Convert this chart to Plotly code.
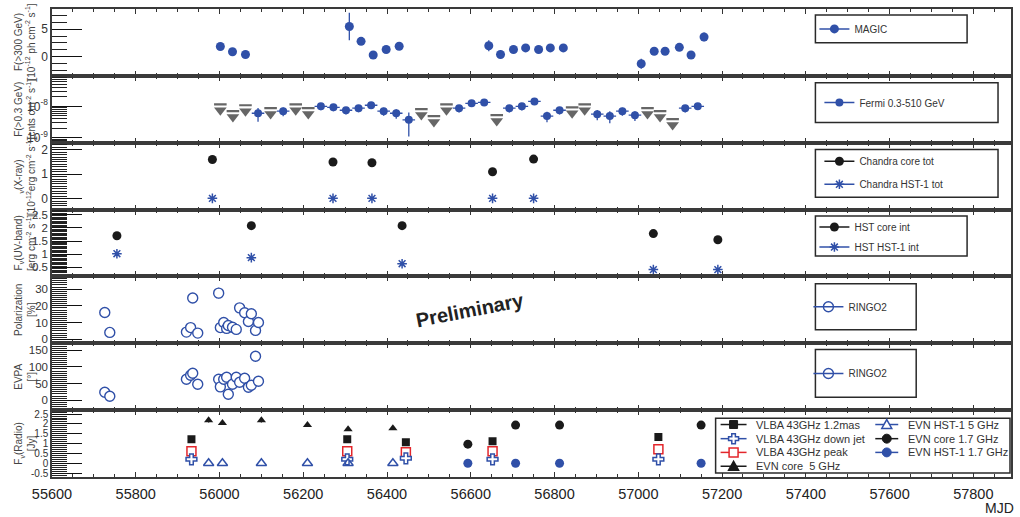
import plotly.graph_objects as go
from plotly.subplots import make_subplots

BLUE = "#3050a8"
GRAY = "#666666"
BLACK = "#1a1a1a"
RED = "#e3262b"
FONT = "Liberation Sans, Arial, sans-serif"

# ---------------- data ----------------
magic_mjd = [56002, 56031, 56062, 56310, 56338, 56367, 56398, 56429, 56643, 56671, 56702,
             56731, 56762, 56790, 56821, 57007, 57038, 57064, 57098, 57126, 57157]
magic_flux = [1.85, 0.9, 0.4, 5.5, 2.8, 0.3, 1.3, 1.9, 2.0, 0.4, 1.3,
              1.6, 1.3, 1.6, 1.6, -1.3, 1.0, 1.0, 1.7, 0.3, 3.6]
magic_err = [0.4, 0.4, 0.6, 2.5, 0.4, 0.4, 0.6, 0.5, 1.0, 0.8, 0.4,
             0.4, 0.4, 0.4, 0.4, 0.9, 0.6, 0.6, 0.5, 0.5, 0.8]

fermi_mjd = [56092, 56152, 56242, 56272, 56302, 56332, 56362, 56392, 56422, 56452, 56572, 56602,
             56632, 56692, 56722, 56752, 56782, 56812, 56902, 56932, 56962, 56992, 57112, 57142]
fermi_flux = [6.0e-9, 7.0e-9, 1.0e-8, 9.3e-9, 7.5e-9, 8.7e-9, 1.08e-8, 7.0e-9, 6.0e-9, 3.7e-9, 8.7e-9, 1.24e-8,
              1.33e-8, 8.7e-9, 1.0e-8, 1.43e-8, 4.9e-9, 7.5e-9, 5.6e-9, 4.9e-9, 7.0e-9, 5.2e-9, 8.7e-9, 1.0e-8]
fermi_err = [2.8e-9, 2.2e-9, 2.5e-9, 2.3e-9, 2.0e-9, 2.2e-9, 2.5e-9, 2.0e-9, 2.0e-9, 2.6e-9, 2.3e-9, 2.5e-9,
             2.5e-9, 2.3e-9, 2.6e-9, 2.8e-9, 1.8e-9, 2.0e-9, 2.0e-9, 2.0e-9, 2.0e-9, 1.8e-9, 2.3e-9, 2.3e-9]
fermi_ul_mjd = [56002, 56032, 56062, 56122, 56182, 56212, 56482, 56512, 56542, 56662, 56842, 56872,
                57022, 57052, 57082]
fermi_ul = [1.16e-8, 7.0e-9, 1.08e-8, 8.7e-9, 1.16e-8, 8.7e-9, 8.1e-9, 4.9e-9, 1.16e-8, 5.2e-9, 9.3e-9, 1.16e-8,
            8.7e-9, 7.0e-9, 3.9e-9]
fermi_halfbin = 15

chandra_mjd = [55983, 56271, 56364, 56652, 56750]
chandra_core = [1.6, 1.5, 1.47, 1.1, 1.62]
chandra_hst1 = [0.01, 0.01, 0.01, 0.01, 0.01]

hst_mjd = [55755, 56076, 56436, 57036, 57190]
hst_core = [1.70, 2.08, 2.08, 1.78, 1.55]
hst_core_err = [0.08, 0.08, 0.08, 0.07, 0.07]
hst_hst1 = [1.02, 0.87, 0.64, 0.42, 0.42]

ringo_mjd = [55726, 55738, 55921, 55931, 55936, 55948, 55998, 56002, 56010, 56017,
             56021, 56031, 56040, 56048, 56060, 56069, 56076, 56086, 56093]
ringo_pol = [16, 4.1, 4.3, 7, 24.7, 3.7, 27.6, 7, 10, 6.5,
             8.2, 7.2, 5.9, 18.8, 15.9, 10.6, 15.3, 5.3, 10]
ringo_pol_err = [0.8, 0.6, 0.6, 0.8, 2.0, 0.6, 3.2, 0.6, 0.8, 0.6,
                 0.6, 0.6, 0.6, 0.8, 0.8, 0.8, 0.8, 0.6, 0.8]
ringo_evpa = [24, 12, 63, 75, 81, 48, 63, 40, 63, 69,
              18, 48, 69, 54, 66, 39, 45, 132, 57]
ringo_evpa_err = [3, 3, 3, 3, 3, 3, 3, 3, 3, 3, 3, 3, 3, 3, 3, 3, 3, 3, 3]

vlba_mjd = [55933, 56305, 56445, 56652, 57048]
vlba_12mas = [1.22, 1.22, 1.07, 1.12, 1.33]
vlba_downjet = [0.2, 0.2, 0.25, 0.2, 0.2]
vlba_peak = [0.61, 0.61, 0.56, 0.61, 0.71]

evn5_mjd = [55974, 56007, 56100, 56210, 56307, 56414]
evn5_core = [2.19, 2.04, 2.19, 1.94, 1.73, 1.78]
evn5_core_err = [0.12, 0.10, 0.12, 0.10, 0.05, 0.05]
evn5_hst1 = [0.0, 0.0, 0.0, 0.0, 0.0, 0.0]

evn17_mjd = [56593, 56707, 56812, 57150]
evn17_core = [0.97, 1.94, 1.94, 1.94]
evn17_core_err = [0.04, 0.06, 0.06, 0.06]
evn17_hst1 = [0.0, 0.0, 0.0, 0.0]

x_ticks = [55600, 55800, 56000, 56200, 56400, 56600, 56800, 57000, 57200, 57400, 57600, 57800]

# ---------------- geometry helpers (layout pixels -> paper) ----------------
W, H = 1020, 517
ML, MR, MT, MB = 52, 7, 7, 40
PW, PH = W - ML - MR, H - MT - MB


def px(x):
    return (x - ML) / PW


def py(y):
    return (H - MB - y) / PH


fig = make_subplots(rows=7, cols=1, shared_xaxes=True, vertical_spacing=0)


def eb(arr, color, thick=1.3):
    return dict(type="data", array=arr, visible=True, color=color, thickness=thick, width=0)


ASTER = dict(color=BLUE, size=8, symbol="asterisk-open", line=dict(color=BLUE, width=1.5))
OPENC = dict(color=BLUE, size=10, symbol="circle-open", line=dict(color=BLUE, width=1.4))
HOLLOW = dict(color="white", size=10, symbol="circle", line=dict(color=BLUE, width=1.4))

# MAGIC
fig.add_trace(go.Scatter(x=magic_mjd, y=magic_flux, mode="markers", error_y=eb(magic_err, BLUE),
                         marker=dict(color=BLUE, size=9), showlegend=False), row=1, col=1)
# Fermi detections
fig.add_trace(go.Scatter(x=fermi_mjd, y=fermi_flux, mode="markers", error_y=eb(fermi_err, BLUE),
                         error_x=eb([fermi_halfbin] * len(fermi_mjd), BLUE),
                         marker=dict(color=BLUE, size=8), showlegend=False), row=2, col=1)
# Fermi upper limits: bar at UL, triangle hanging below
fig.add_trace(go.Scatter(x=fermi_ul_mjd, y=fermi_ul, mode="markers",
                         error_x=eb([fermi_halfbin] * len(fermi_ul_mjd), GRAY, 2.2),
                         marker=dict(color=GRAY, size=1, opacity=0), showlegend=False), row=2, col=1)
fig.add_trace(go.Scatter(x=fermi_ul_mjd, y=[v * 0.65 for v in fermi_ul], mode="markers",
                         marker=dict(color=GRAY, size=11, symbol="triangle-down"), showlegend=False), row=2, col=1)
# Chandra
fig.add_trace(go.Scatter(x=chandra_mjd, y=chandra_core, mode="markers",
                         marker=dict(color=BLACK, size=9), showlegend=False), row=3, col=1)
fig.add_trace(go.Scatter(x=chandra_mjd, y=chandra_hst1, mode="markers", marker=ASTER,
                         showlegend=False), row=3, col=1)
# HST
fig.add_trace(go.Scatter(x=hst_mjd, y=hst_core, mode="markers", error_y=eb(hst_core_err, BLACK),
                         marker=dict(color=BLACK, size=9), showlegend=False), row=4, col=1)
fig.add_trace(go.Scatter(x=hst_mjd, y=hst_hst1, mode="markers", marker=ASTER, showlegend=False), row=4, col=1)
# RINGO2
fig.add_trace(go.Scatter(x=ringo_mjd, y=ringo_pol, mode="markers", error_y=eb(ringo_pol_err, BLUE),
                         marker=HOLLOW, showlegend=False), row=5, col=1)
fig.add_trace(go.Scatter(x=ringo_mjd, y=ringo_evpa, mode="markers", error_y=eb(ringo_evpa_err, BLUE),
                         marker=HOLLOW, showlegend=False), row=6, col=1)
# Radio
fig.add_trace(go.Scatter(x=vlba_mjd, y=vlba_12mas, mode="markers",
                         marker=dict(color=BLACK, size=8, symbol="square"), showlegend=False), row=7, col=1)
fig.add_trace(go.Scatter(x=vlba_mjd, y=vlba_peak, mode="markers",
                         marker=dict(size=9, symbol="square", line=dict(color=RED, width=1.5), color="white"),
                         showlegend=False), row=7, col=1)
fig.add_trace(go.Scatter(x=vlba_mjd, y=vlba_downjet, mode="markers",
                         marker=dict(size=9, symbol="cross", line=dict(color=BLUE, width=1.5), color="white"),
                         showlegend=False), row=7, col=1)
fig.add_trace(go.Scatter(x=evn5_mjd, y=evn5_core, mode="markers", error_y=eb(evn5_core_err, BLACK),
                         marker=dict(color=BLACK, size=8, symbol="triangle-up"), showlegend=False), row=7, col=1)
fig.add_trace(go.Scatter(x=evn5_mjd, y=evn5_hst1, mode="markers",
                         marker=dict(size=9, symbol="triangle-up-open", line=dict(color=BLUE, width=1.5), color=BLUE),
                         showlegend=False), row=7, col=1)
fig.add_trace(go.Scatter(x=evn17_mjd, y=evn17_core, mode="markers", error_y=eb(evn17_core_err, BLACK),
                         marker=dict(color=BLACK, size=9), showlegend=False), row=7, col=1)
fig.add_trace(go.Scatter(x=evn17_mjd, y=evn17_hst1, mode="markers",
                         marker=dict(color=BLUE, size=9), showlegend=False), row=7, col=1)

# ---------------- legends (native) ----------------
legend_items = [
    ("legend", 1, "MAGIC", dict(color=BLUE, size=9), BLUE),
    ("legend2", 2, "Fermi 0.3-510 GeV", dict(color=BLUE, size=8), BLUE),
    ("legend3", 3, "Chandra core tot", dict(color=BLACK, size=9), BLACK),
    ("legend3", 3, "Chandra HST-1 tot", ASTER, BLUE),
    ("legend4", 4, "HST core int", dict(color=BLACK, size=9), BLACK),
    ("legend4", 4, "HST HST-1 int", ASTER, BLUE),
    ("legend5", 5, "RINGO2", OPENC, BLUE),
    ("legend6", 6, "RINGO2", OPENC, BLUE),
]
for i, (lg, row, name, mk, lc) in enumerate(legend_items):
    fig.add_trace(go.Scatter(x=[None], y=[None], mode="lines+markers", name=name, marker=mk,
                             line=dict(color=lc, width=1.5), legend=lg, legendgroup="g%d" % i,
                             showlegend=True), row=row, col=1)

leg_common = dict(bgcolor="rgba(0,0,0,0)", borderwidth=0, font=dict(family=FONT, size=10, color="#333"),
                  xanchor="left", yanchor="middle", traceorder="grouped", itemwidth=30)
# box x0, y0, x1, y1, item-centre y, group gap, legend x
legend_boxes = {
    "legend": (817, 13, 969, 41, 27, 0, 816),
    "legend2": (817, 81, 1000, 121, 101, 0, 821),
    "legend3": (817, 148, 1000, 196, 171.5, 4, 821),
    "legend4": (817, 215, 969, 255, 236, 1, 816),
    "legend5": (817, 283, 918, 329, 306, 0, 810),
    "legend6": (817, 349, 918, 397, 373, 0, 810),
}
shapes = []
for lg, (x0, y0, x1, y1, yc, gap, lx) in legend_boxes.items():
    fig.update_layout({lg: dict(leg_common, x=px(lx), y=py(yc), tracegroupgap=gap)})
    shapes.append(dict(type="rect", xref="paper", yref="paper", x0=px(x0), x1=px(x1), y0=py(y0), y1=py(y1),
                       line=dict(color="#2a2a2a", width=1.5), fillcolor="rgba(0,0,0,0)", layer="above"))

# ---------------- radio legend (drawn) ----------------
rx0, ry0, rx1, ry1 = 717, 418, 1012, 473
shapes.append(dict(type="rect", xref="paper", yref="paper", x0=px(rx0), x1=px(rx1), y0=py(ry0), y1=py(ry1),
                   line=dict(color="#2a2a2a", width=1.5), fillcolor="white", layer="above"))
radio_legend = [
    ("VLBA 43GHz 1.2mas", "square", BLACK, 0, 0),
    ("VLBA 43GHz down jet", "cross-open", BLUE, 0, 1),
    ("VLBA 43GHz peak", "square-open", RED, 0, 2),
    ("EVN core  5 GHz", "triangle", BLACK, 0, 3),
    ("EVN HST-1 5 GHz", "triangle-open", BLUE, 1, 0),
    ("EVN core 1.7 GHz", "circle", BLACK, 1, 1),
    ("EVN HST-1 1.7 GHz", "circle", BLUE, 1, 2),
]
col_line = [(722, 748), (877, 900)]
col_text = [755, 908]
row_y = [424.3, 438.5, 452.3, 466.2]
annotations = []


def pth(pts):
    return "M " + " L ".join("%f,%f" % (px(a), py(b)) for a, b in pts) + " Z"


for label, kind, color, c, r in radio_legend:
    yy = row_y[r]
    xa, xb = col_line[c]
    xm = (xa + xb) / 2
    shapes.append(dict(type="line", xref="paper", yref="paper", x0=px(xa), x1=px(xb), y0=py(yy), y1=py(yy),
                       line=dict(color=color, width=1.5), layer="above"))
    if kind == "square":
        shapes.append(dict(type="rect", xref="paper", yref="paper", x0=px(xm - 4), x1=px(xm + 4),
                           y0=py(yy - 4), y1=py(yy + 4), fillcolor=color, line=dict(color=color, width=1), layer="above"))
    elif kind == "square-open":
        shapes.append(dict(type="rect", xref="paper", yref="paper", x0=px(xm - 4.5), x1=px(xm + 4.5),
                           y0=py(yy - 4.5), y1=py(yy + 4.5), fillcolor="white", line=dict(color=color, width=1.5),
                           layer="above"))
    elif kind == "circle":
        shapes.append(dict(type="circle", xref="paper", yref="paper", x0=px(xm - 4.5), x1=px(xm + 4.5),
                           y0=py(yy - 4.5), y1=py(yy + 4.5), fillcolor=color, line=dict(color=color, width=1),
                           layer="above"))
    elif kind in ("triangle", "triangle-open"):
        pts = [(xm - 5, yy + 4), (xm + 5, yy + 4), (xm, yy - 5)]
        shapes.append(dict(type="path", xref="paper", yref="paper", path=pth(pts),
                           fillcolor=color if kind == "triangle" else "white",
                           line=dict(color=color, width=1.5), layer="above"))
    elif kind == "cross-open":
        a, b = 5, 1.8
        pts = [(xm - b, yy - a), (xm + b, yy - a), (xm + b, yy - b), (xm + a, yy - b), (xm + a, yy + b),
               (xm + b, yy + b), (xm + b, yy + a), (xm - b, yy + a), (xm - b, yy + b), (xm - a, yy + b),
               (xm - a, yy - b), (xm - b, yy - b)]
        shapes.append(dict(type="path", xref="paper", yref="paper", path=pth(pts), fillcolor="white",
                           line=dict(color=color, width=1.5), layer="above"))
    annotations.append(dict(text=label, xref="paper", yref="paper", x=px(col_text[c]), y=py(yy),
                            xanchor="left", yanchor="middle", showarrow=False,
                            font=dict(family=FONT, size=11, color="#333")))

# ---------------- y axis titles ----------------
ytitles = [
    "F(>300 GeV)<br>[10<sup>-12</sup> ph cm<sup>-2</sup> s<sup>-1</sup>]",
    "F(>0.3 GeV)<br>[cnts cm<sup>-2</sup> s<sup>-1</sup>]",
    "<sub>ν</sub>(X-ray)<br>[10<sup>-12</sup>erg cm<sup>-2</sup> s<sup>-1</sup>]",
    "F<sub>ν</sub>(UV-band)<br>[erg cm<sup>-2</sup> s<sup>-1</sup>]",
    "Polarization<br>[%]",
    "EVPA<br>[°]",
    "F<sub>ν</sub>(Radio)<br>[Jy]",
]
for k, t in enumerate(ytitles):
    annotations.append(dict(text=t, xref="paper", yref="paper", x=px(25), y=1 - (k + 0.5) / 7,
                            xanchor="center", yanchor="middle", textangle=-90, showarrow=False,
                            font=dict(family=FONT, size=10, color="#444")))

annotations.append(dict(text="<b>Preliminary</b>", xref="paper", yref="paper", x=px(471), y=py(309),
                        xanchor="center", yanchor="middle", textangle=-11, showarrow=False,
                        font=dict(family=FONT, size=20, color="#222")))
annotations.append(dict(text="MJD", xref="paper", yref="paper", x=px(1001), y=py(508),
                        xanchor="center", yanchor="middle", showarrow=False,
                        font=dict(family=FONT, size=14, color="#222")))

# ---------------- axes ----------------
for r in range(1, 8):
    fig.update_xaxes(row=r, col=1, range=[55600, 57890], tickvals=x_ticks, tickformat="d",
                     showline=True, linecolor="#3a3a3a",
                     linewidth=2, mirror="ticks", ticks="inside", ticklen=5, tickwidth=1, tickcolor="#333",
                     minor=dict(ticks="inside", ticklen=3, dtick=50, tick0=55600, tickcolor="#333", tickwidth=1),
                     showgrid=False, zeroline=False, tickfont=dict(family=FONT, size=14.5, color="#222"),
                     ticklabelstandoff=3)

yaxis_cfg = [
    dict(range=[-3.5, 8.7], tickvals=[0, 5], minor_dtick=1.25, fs=12),
    dict(type="log", range=[-9.16, -7.03], tickvals=[1e-9, 1e-8],
         ticktext=["10<sup>-9</sup>", "10<sup>-8</sup>"], minor_dtick="D1", fs=12),
    dict(range=[-0.45, 2.29], tickvals=[0, 1, 2], minor_dtick=0.1, fs=12),
    dict(range=[0.16, 2.69], tickvals=[0.5, 1, 1.5, 2, 2.5], minor_dtick=0.05, fs=11.5),
    dict(range=[-2.4, 37.6], tickvals=[0, 10, 20, 30], minor_dtick=1.25, fs=11.5),
    dict(range=[-30, 171], tickvals=[0, 50, 100, 150], minor_dtick=6.25, fs=11.5),
    dict(range=[-0.7, 2.7], tickvals=[-0.5, 0, 0.5, 1, 1.5, 2, 2.5],
         ticktext=["-0.5", "0", "0.5", "1", "1.5", "2", "2.5"], minor_dtick=0.1, fs=10),
]
for r, cfg in enumerate(yaxis_cfg, start=1):
    cfg = dict(cfg)
    mdt = cfg.pop("minor_dtick")
    fs = cfg.pop("fs")
    fig.update_yaxes(row=r, col=1, showline=True, linecolor="#3a3a3a", linewidth=1.5, mirror=True,
                     ticks="inside", ticklen=30, tickwidth=1.3, tickcolor="#111",
                     minor=dict(ticks="inside", ticklen=15, dtick=mdt, tickcolor="#222", tickwidth=0.9),
                     showgrid=False, zeroline=False, tickfont=dict(family=FONT, size=fs, color="#333"), **cfg)

fig.update_layout(width=W, height=H, margin=dict(l=ML, r=MR, t=MT, b=MB), paper_bgcolor="white",
                  plot_bgcolor="white", font=dict(family=FONT), shapes=shapes, annotations=annotations)

fig.write_html("out.html", config={"displayModeBar": False},
               post_script="document.body.style.margin='0';document.body.style.overflow='hidden';")
